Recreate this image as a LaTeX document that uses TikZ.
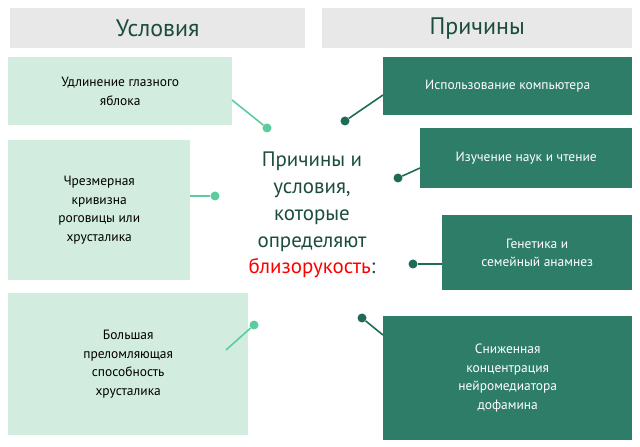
\documentclass[tikz,border=0pt]{standalone}
\usepackage{fontspec}
\setmainfont{PT Sans}
\usetikzlibrary{calc}
\definecolor{lightbox}{HTML}{D3ECE0}
\definecolor{darkbox}{HTML}{2E7D69}
\definecolor{lightline}{HTML}{5CCC9E}
\definecolor{darkline}{HTML}{1F6B57}
\definecolor{headtext}{HTML}{1B4D3E}
\definecolor{headgray}{HTML}{E8E8E8}
\tikzset{
	headbox/.style={fill=headgray, text=headtext, font=\fontsize{24}{28}\selectfont, anchor=north west, inner sep=0},
	condbox/.style={fill=lightbox, text=black, font=\fontsize{13.5}{18.5}\selectfont, align=center, anchor=north west, inner sep=0},
	causebox/.style={fill=darkbox, text=white, font=\fontsize{13.5}{18.5}\selectfont, align=center, anchor=north west, inner sep=0},
	condline/.style={lightline, line width=1.6bp},
	causeline/.style={darkline, line width=1.6bp},
	conddot/.style={circle, fill=lightline, inner sep=0, minimum size=9bp},
	causedot/.style={circle, fill=darkline, inner sep=0, minimum size=9bp}
}
\begin{document}
\begin{tikzpicture}[x=1bp, y=-1bp]
	\useasboundingbox (0,0) rectangle (640,447);
	% headers
	\node[headbox, minimum width=295bp, minimum height=40bp] (hcond) at (10,8) {Условия};
	\node[headbox, minimum width=310bp, minimum height=40bp] (hcause) at (322,8) {Причины};
	% conditions
	\node[condbox, minimum width=224bp, minimum height=68bp] (c1) at (8,57) {Удлинение глазного\\яблока};
	\node[condbox, minimum width=182bp, minimum height=140bp] (c2) at (8,140) {Чрезмерная\\кривизна\\роговицы или\\хрусталика};
	\node[condbox, minimum width=240bp, minimum height=142bp] (c3) at (8,293) {Большая\\преломляющая\\способность\\хрусталика};
	% causes
	\node[causebox, minimum width=249bp, minimum height=58bp] (p1) at (383,57) {Использование компьютера};
	\node[causebox, minimum width=212bp, minimum height=60bp] (p2) at (420,128) {Изучение наук и чтение};
	\node[causebox, minimum width=190bp, minimum height=75bp] (p3) at (442,215) {Генетика и\\семейный анамнез};
	\node[causebox, minimum width=249bp, minimum height=124bp] (p4) at (383,316) {Сниженная\\концентрация\\нейромедиатора\\дофамина};
	% centre
	\node[text=headtext, align=center, font=\fontsize{21}{27}\selectfont] (mid) at (312,215) {Причины и\\условия,\\которые\\определяют\\\textcolor{red}{близорукость}:};
	% connectors
	\node[conddot] (d1) at (267,128) {};
	\node[conddot] (d2) at (215,196) {};
	\node[conddot] (d3) at (254,325) {};
	\node[causedot] (e1) at (345,121) {};
	\node[causedot] (e2) at (398,178) {};
	\node[causedot] (e3) at (413,264) {};
	\node[causedot] (e4) at (362,318) {};
	\coordinate (a1) at (232,100);
	\coordinate (a3) at (226,350);
	\draw[condline] (a1) -- (d1);
	\draw[condline] (c2.east |- d2) -- (d2);
	\draw[condline] (a3) -- (d3);
	\coordinate (b1) at (383,95);
	\coordinate (b2) at (420,168);
	\coordinate (b4) at (383,335);
	\draw[causeline] (b1) -- (e1);
	\draw[causeline] (b2) -- (e2);
	\draw[causeline] (p3.west |- e3) -- (e3);
	\draw[causeline] (b4) -- (e4);
\end{tikzpicture}
\end{document}
